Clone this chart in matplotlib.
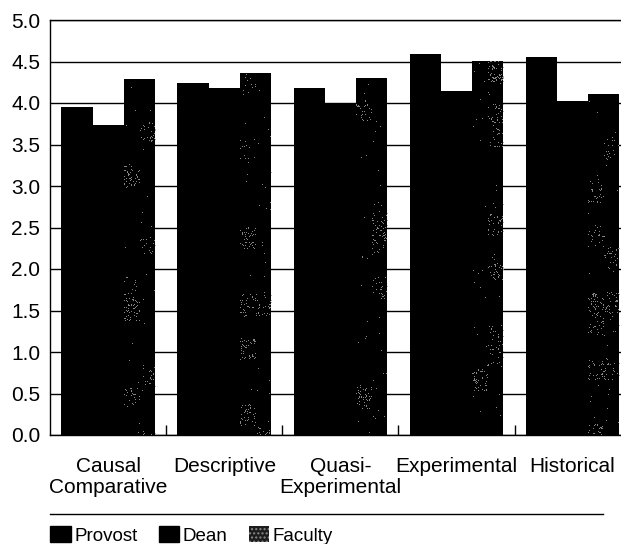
import numpy as np
import matplotlib
matplotlib.use("Agg")
import matplotlib.pyplot as plt
from matplotlib.patches import Patch
from matplotlib.lines import Line2D

# mean ratings per research design, by respondent group
categories = ["Causal\nComparative", "Descriptive", "Quasi-\nExperimental", "Experimental", "Historical"]
provost = [3.95, 4.24, 4.18, 4.59, 4.55]
dean = [3.73, 4.18, 3.99, 4.14, 4.02]
faculty = [4.29, 4.36, 4.30, 4.51, 4.11]
groups = ["Provost", "Dean", "Faculty"]
y_ticks = [0.0, 0.5, 1.0, 1.5, 2.0, 2.5, 3.0, 3.5, 4.0, 4.5, 5.0]

plt.rcParams["font.family"] = ["Liberation Sans", "DejaVu Sans"]

W, H = 621, 544
fig = plt.figure(figsize=(W / 100, H / 100), dpi=100)
ax = fig.add_axes([50 / W, 109 / H, 571 / W, 415 / H])

x = np.arange(len(categories))
w = 0.27
ax.bar(x - w, provost, w, color="black", zorder=2)
ax.bar(x, dean, w, color="black", zorder=2)
fac_bars = ax.bar(x + w, faculty, w, color="black", zorder=2)

# grainy grey speckle on the faculty bars, sparse and in patches
rng = np.random.default_rng(11)
for bar in fac_bars:
    bx, bh = bar.get_x(), bar.get_height()
    nx, ny = 32, int(bh * 83)
    coarse = rng.random((ny // 22 + 1, 2))
    field = np.kron(coarse, np.ones((22, 16)))[:ny, :nx]
    density = np.clip((field - 0.72) * 0.5, 0, None) + 0.003
    dots = rng.random((ny, nx)) < density
    img = np.zeros((ny, nx, 4))
    img[..., :3] = 0.62
    img[..., 3] = dots * 0.85
    im = ax.imshow(img, extent=(bx, bx + w, 0, bh), aspect="auto",
                   interpolation="nearest", zorder=3)
    im.set_clip_path(bar)

ax.set_xlim(-0.504, 4.418)
ax.set_ylim(0, 5.0)
ax.set_yticks(y_ticks)
ax.set_yticklabels([f"{t:.1f}" for t in y_ticks])
ax.yaxis.grid(True, color="black", linewidth=1)
ax.set_axisbelow(True)
ax.tick_params(axis="y", length=0, pad=7, labelsize=15)

# small inward ticks between groups, category names centred under groups
ax.set_xticks(x[:-1] + 0.5)
ax.set_xticklabels([])
ax.tick_params(axis="x", which="major", direction="in", length=7, width=1)
ax.set_xticks(x, minor=True)
ax.set_xticklabels(categories, minor=True, fontsize=15)
ax.tick_params(axis="x", which="minor", length=0, pad=16)
for lbl in ax.get_xticklabels(minor=True):
    lbl.set_linespacing(1.15)

for side in ["left", "bottom", "top"]:
    ax.spines[side].set_linewidth(1)
ax.spines["right"].set_visible(False)

# rule above the legend
fig.add_artist(Line2D([50 / W, 603 / W], [1 - 514 / H] * 2, color="black",
                      linewidth=1, transform=fig.transFigure))

handles = [
    Patch(facecolor="black", edgecolor="black"),
    Patch(facecolor="black", edgecolor="black"),
    Patch(facecolor="#1c1c1c", edgecolor="#8a8a8a", hatch="....", linewidth=0),
]
fig.legend(handles, groups, loc="lower left", bbox_to_anchor=(41 / W, -10 / H),
           ncol=3, frameon=False, fontsize=13.5, handlelength=1.1,
           handleheight=0.95, handletextpad=0.2, columnspacing=1.1,
           borderaxespad=0.1)

fig.savefig("out.png", dpi=100)
